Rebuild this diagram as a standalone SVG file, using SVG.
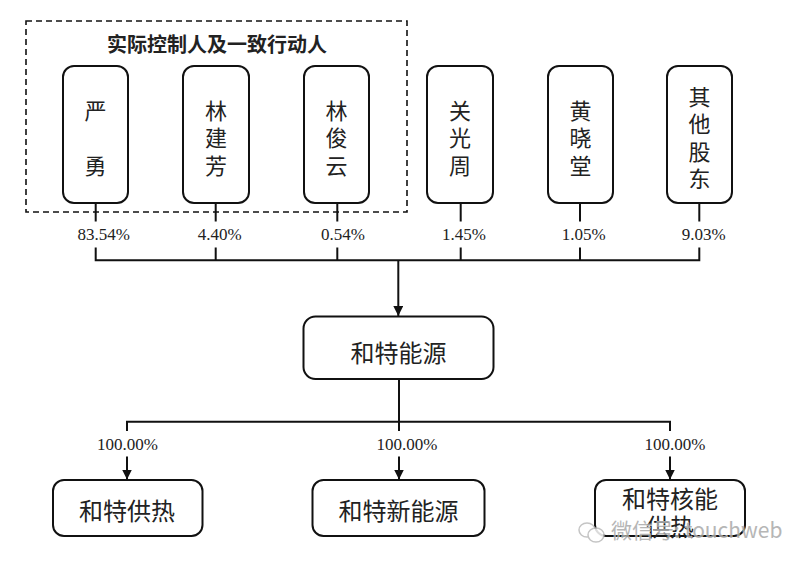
<svg xmlns="http://www.w3.org/2000/svg" width="800" height="567" viewBox="0 0 800 567">
<style>
.box{fill:#fff;stroke:#111;stroke-width:2}
.cjk{font-family:"Noto Sans CJK SC","Noto Sans",sans-serif;fill:#222;text-anchor:middle;dominant-baseline:central}
.v{font-family:"Noto Sans CJK SC","Noto Sans",sans-serif;fill:#222;font-size:22px;writing-mode:vertical-rl;text-anchor:middle;letter-spacing:5.5px}
.h{font-size:24px}
.pct{font-family:"Liberation Serif","Times New Roman",serif;font-size:17px;fill:#222;text-anchor:middle}
.ln{fill:none;stroke:#111;stroke-width:2}
</style>
<defs>
<marker id="arr" viewBox="0 0 10 10" refX="10" refY="5" markerWidth="10" markerHeight="10" markerUnits="userSpaceOnUse" orient="auto">
<path d="M0,0 L10,5 L0,10 z" fill="#111"/>
</marker>
</defs>
<rect width="800" height="567" fill="#fff"/>

<g id="group-controllers">
<rect x="26" y="21" width="381" height="191" fill="none" stroke="#111" stroke-width="1.6" stroke-dasharray="6,4"/>
<text class="cjk" x="217" y="43" font-size="20" font-weight="bold">实际控制人及一致行动人</text>
</g>

<g id="n-yanyong">
<rect class="box" x="63" y="66" width="65" height="137" rx="11"/>
<text class="v" x="95.5" y="140.5">严　勇</text>
</g>
<g id="n-linjianfang">
<rect class="box" x="183" y="66" width="66" height="137" rx="11"/>
<text class="v" x="216" y="140.5">林建芳</text>
</g>
<g id="n-linjunyun">
<rect class="box" x="304" y="66" width="65" height="137" rx="11"/>
<text class="v" x="336.5" y="140.5">林俊云</text>
</g>
<g id="n-guanguangzhou">
<rect class="box" x="427" y="66" width="66" height="137" rx="11"/>
<text class="v" x="460" y="140.5">关光周</text>
</g>
<g id="n-huangxiaotang">
<rect class="box" x="548" y="66" width="65" height="137" rx="11"/>
<text class="v" x="580.5" y="140.5">黄晓堂</text>
</g>
<g id="n-others">
<rect class="box" x="667" y="66" width="65" height="137" rx="11"/>
<text class="v" x="699.5" y="140.5">其他股东</text>
</g>

<g id="n-hete">
<rect class="box" x="303.5" y="316.5" width="190" height="62.5" rx="12"/>
<text class="cjk h" x="398.5" y="351">和特能源</text>
</g>

<g id="n-gongre">
<rect class="box" x="53" y="480" width="149.5" height="56" rx="11"/>
<text class="cjk h" x="127" y="509">和特供热</text>
</g>
<g id="n-xinnengyuan">
<rect class="box" x="312.5" y="480" width="172" height="56" rx="11"/>
<text class="cjk h" x="398.5" y="509">和特新能源</text>
</g>
<g id="n-henenggongre">
<rect class="box" x="595" y="480" width="150" height="56" rx="11"/>
<text class="cjk h"><tspan x="670" y="497">和特核能</tspan><tspan x="670" y="525">供热</tspan></text>
</g>

<g id="connectors">
<path class="ln" d="M95.7,203 V221.5 M215.7,203 V221.5 M337.3,203 V221.5 M460.7,203 V221.5 M580,203 V221.5 M699.3,203 V221.5"/>
<path class="ln" d="M95.7,247.5 V260.3 H699.3 V247.5 M215.7,247.5 V260.3 M337.3,247.5 V260.3 M460.7,247.5 V260.3 M580,247.5 V260.3"/>
<path class="ln" d="M398.3,260.3 V316" marker-end="url(#arr)"/>
<path class="ln" d="M399,379 V431 M127,431 V421.7 H670 V431"/>
<path class="ln" d="M127,456.5 V479.5" marker-end="url(#arr)"/>
<path class="ln" d="M399,456.5 V479.5" marker-end="url(#arr)"/>
<path class="ln" d="M670,456.5 V479.5" marker-end="url(#arr)"/>
<text class="pct" x="103.7" y="240">83.54%</text>
<text class="pct" x="219.7" y="240">4.40%</text>
<text class="pct" x="343" y="240">0.54%</text>
<text class="pct" x="464" y="240">1.45%</text>
<text class="pct" x="583.7" y="240">1.05%</text>
<text class="pct" x="703.7" y="240">9.03%</text>
<text class="pct" x="127.5" y="449.5">100.00%</text>
<text class="pct" x="407" y="450">100.00%</text>
<text class="pct" x="675" y="449.5">100.00%</text>
</g>

<g id="watermark" opacity="0.85">
<ellipse cx="587" cy="530" rx="8" ry="7" fill="none" stroke="#bbb" stroke-width="1.5"/>
<ellipse cx="596" cy="535" rx="8" ry="7" fill="#fff" stroke="#bbb" stroke-width="1.5"/>
<text x="611" y="538" font-family="Noto Sans CJK SC,sans-serif" font-size="21" fill="#aaa" stroke="#fff" stroke-width="0.6" paint-order="stroke">微信号: touchweb</text>
</g>
</svg>
